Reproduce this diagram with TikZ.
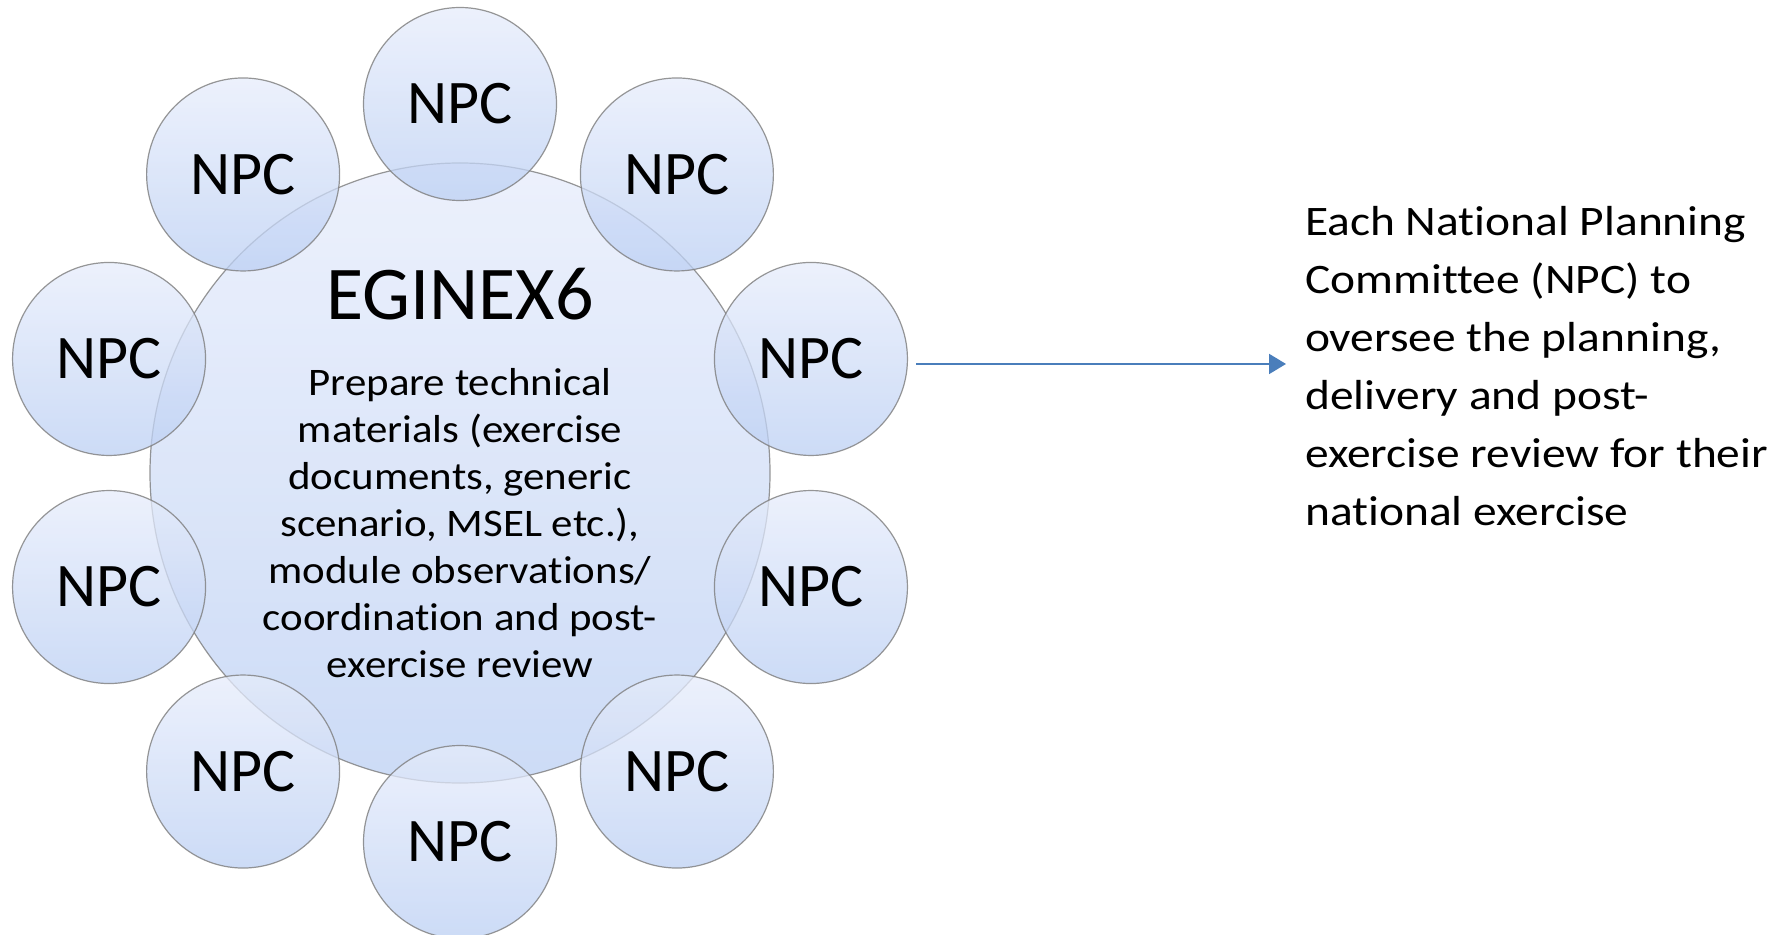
\documentclass[tikz,border=0pt]{standalone}
\usepackage{fontspec}
\setmainfont{Carlito}
\newfontfamily\widefont[FakeStretch=1.1,Ligatures=NoCommon]{Carlito}
\newfontfamily\widerfont[FakeStretch=1.13,Ligatures=NoCommon]{Carlito}
\usetikzlibrary{arrows.meta}

\definecolor{ballTop}{RGB}{230,236,251}
\definecolor{ballBot}{RGB}{187,207,243}
\definecolor{rimGray}{RGB}{125,125,125}
\definecolor{arrowBlue}{RGB}{74,126,187}

\tikzset{
  ball/.style={circle, draw=rimGray, line width=0.6pt, top color=ballTop, bottom color=ballBot,
    fill opacity=0.75, draw opacity=0.8, text opacity=1, inner sep=0pt},
  npc/.style={ball, minimum size=96.5pt, font=\fontsize{31pt}{37pt}\selectfont},
  flow/.style={-{Triangle[length=8.5pt,width=10pt]}, draw=arrowBlue, line width=1pt},
}

\begin{document}
\begin{tikzpicture}[x=0.5pt,y=-0.5pt]
\useasboundingbox (0,0) rectangle (1781,935);
% central circle
\node[ball, minimum size=310pt] (core) at (460,473) {};
% ring of committees
\foreach \i in {0,...,9}
  \node[npc] (npc\i) at ({460+369*cos(90-36*\i)},{473-369*sin(90-36*\i)}) {NPC};
% texts
\node[anchor=base, font=\fontsize{38pt}{44pt}\selectfont] (title) at (460,320) {EGINEX6};
\node[anchor=base, align=center, font=\widefont\fontsize{19.5pt}{23.5pt}\selectfont] (desc) at (460,677)
  {Prepare technical\\materials (exercise\\documents, generic\\scenario, MSEL etc.),\\module observations/\\coordination and post-\\exercise review};
\node[anchor=base west, align=left, font=\widerfont\fontsize{21pt}{29pt}\selectfont] (info) at (1298,525)
  {Each National Planning\\Committee (NPC) to\\oversee the planning,\\delivery and post-\\exercise review for their\\national exercise};
\coordinate (tip) at (1286,365);
\draw[flow] (npc2.east) ++(8,5) coordinate (tail) -- (tail -| tip);
\end{tikzpicture}
\end{document}
